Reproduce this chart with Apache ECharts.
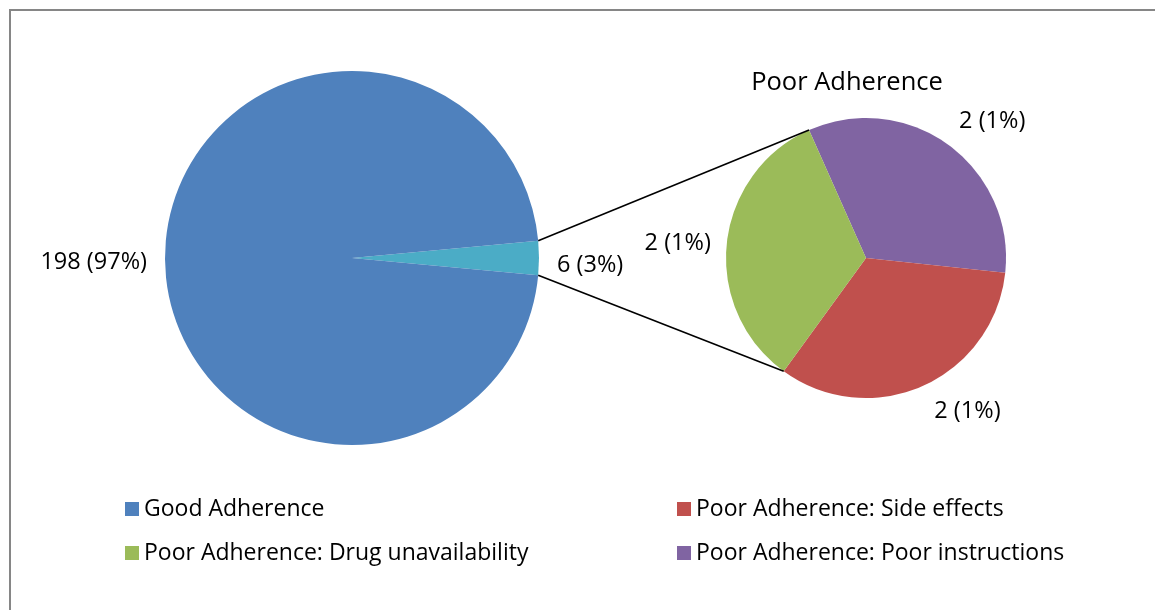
<!DOCTYPE html>
<html>
<head>
<meta charset="utf-8">
<script src="https://cdn.jsdelivr.net/npm/echarts@6/dist/echarts.min.js"></script>
<style>
  html, body { margin: 0; padding: 0; background: #ffffff; }
  #chart { width: 1155px; height: 610px; }
</style>
</head>
<body>
<div id="chart"></div>
<script>
// Overall adherence, in clockwise drawing order
const overallNames = ['Poor Adherence', 'Good Adherence'];
const overallValues = [6, 198];

// Breakdown of the poor-adherence group, in clockwise drawing order
const reasonNames = [
  'Poor Adherence: Poor instructions',
  'Poor Adherence: Side effects',
  'Poor Adherence: Drug unavailability'
];
const reasonValues = [2, 2, 2];

// Legend columns
const legendLeftItems = ['Good Adherence', 'Poor Adherence: Drug unavailability'];
const legendRightItems = ['Poor Adherence: Side effects', 'Poor Adherence: Poor instructions'];

const subTitle = 'Poor Adherence';

// ---- styling / layout ----
const FONT = 'Open Sans';
const LABEL_FS = 23.5;
const LEGEND_FS = 23;
const TITLE_FS = 25.5;
const overallColors = ['#4BACC6', '#4F81BD'];
const reasonColors = ['#8064A2', '#C0504D', '#9BBB59'];
const reasonLabelReach = [32, 28, 16];
// fine nudges for the value labels, per slice
const overallLabelNudge = [[0, 7], [0, 4]];
const reasonLabelNudge = [[-8, 2], [0, 0], [0, 2]];

const total = overallValues.reduce((a, b) => a + b, 0);
const reasonTotal = reasonValues.reduce((a, b) => a + b, 0);

const mainCenter = [352, 258], mainRadius = 187;
const subCenter = [866, 258], subRadius = 140;

// The poor slice is centred on the 3 o'clock direction
const poorSweep = overallValues[0] / total * 360;
const mainStart = poorSweep / 2;
const subStart = 114;

const fmt = p => p.value + ' (' + Math.round(p.value / total * 100) + '%)';

function edgePoint(center, r, deg) {
  const a = deg * Math.PI / 180;
  return [center[0] + r * Math.cos(a), center[1] - r * Math.sin(a)];
}

// Connector lines from the poor slice edges to the breakdown pie
const mainTop = edgePoint(mainCenter, mainRadius, mainStart);
const mainBottom = edgePoint(mainCenter, mainRadius, mainStart - poorSweep);
const lastStart = subStart - 360 * (reasonTotal - reasonValues[reasonValues.length - 1]) / reasonTotal;
const subTop = edgePoint(subCenter, subRadius, subStart);
const subBottom = edgePoint(subCenter, subRadius, lastStart);

const labelStyle = {
  show: true,
  position: 'outside',
  formatter: fmt,
  color: '#000000',
  fontFamily: FONT,
  fontSize: LABEL_FS,
  distanceToLabelLine: 0,
  alignTo: 'none'
};

const legendBase = {
  orient: 'vertical',
  top: 492,
  icon: 'rect',
  itemWidth: 14,
  itemHeight: 14,
  itemGap: 20,
  selectedMode: false,
  textStyle: { color: '#000000', fontFamily: FONT, fontSize: LEGEND_FS, lineHeight: 24 }
};

const chart = echarts.init(document.getElementById('chart'), null, { renderer: 'canvas' });
chart.setOption({
  animation: false,
  backgroundColor: '#ffffff',
  legend: [
    Object.assign({}, legendBase, { left: 120, data: legendLeftItems }),
    Object.assign({}, legendBase, { left: 672, data: legendRightItems })
  ],
  series: [
    {
      type: 'pie',
      center: mainCenter,
      radius: [0, mainRadius],
      startAngle: mainStart,
      clockwise: true,
      avoidLabelOverlap: false,
      emphasis: { disabled: true },
      label: labelStyle,
      labelLine: { show: false, length: 18, length2: 0 },
      labelLayout: p => ({ dx: overallLabelNudge[p.dataIndex][0], dy: overallLabelNudge[p.dataIndex][1] }),
      data: overallNames.map((n, i) => ({
        name: n,
        value: overallValues[i],
        itemStyle: { color: overallColors[i] }
      }))
    },
    {
      type: 'pie',
      center: subCenter,
      radius: [0, subRadius],
      startAngle: subStart,
      clockwise: true,
      avoidLabelOverlap: false,
      emphasis: { disabled: true },
      label: labelStyle,
      labelLine: { show: false, length: 28, length2: 0 },
      labelLayout: p => ({ dx: reasonLabelNudge[p.dataIndex][0], dy: reasonLabelNudge[p.dataIndex][1] }),
      data: reasonNames.map((n, i) => ({
        name: n,
        value: reasonValues[i],
        itemStyle: { color: reasonColors[i] },
        labelLine: { show: false, length: reasonLabelReach[i], length2: 0 }
      }))
    }
  ],
  graphic: [
    {
      type: 'rect',
      shape: { x: 10, y: 10, width: 1300, height: 800 },
      style: { fill: 'none', stroke: '#868686', lineWidth: 2 },
      silent: true
    },
    {
      type: 'line',
      shape: { x1: mainTop[0], y1: mainTop[1], x2: subTop[0], y2: subTop[1] },
      style: { stroke: '#000000', lineWidth: 1.6 },
      z: 10
    },
    {
      type: 'line',
      shape: { x1: mainBottom[0], y1: mainBottom[1], x2: subBottom[0], y2: subBottom[1] },
      style: { stroke: '#000000', lineWidth: 1.6 },
      z: 10
    },
    {
      type: 'text',
      x: 847,
      y: 83,
      style: {
        text: subTitle,
        fill: '#000000',
        font: TITLE_FS + 'px "' + FONT + '"',
        textAlign: 'center',
        textVerticalAlign: 'middle'
      }
    }
  ]
});
</script>
</body>
</html>
